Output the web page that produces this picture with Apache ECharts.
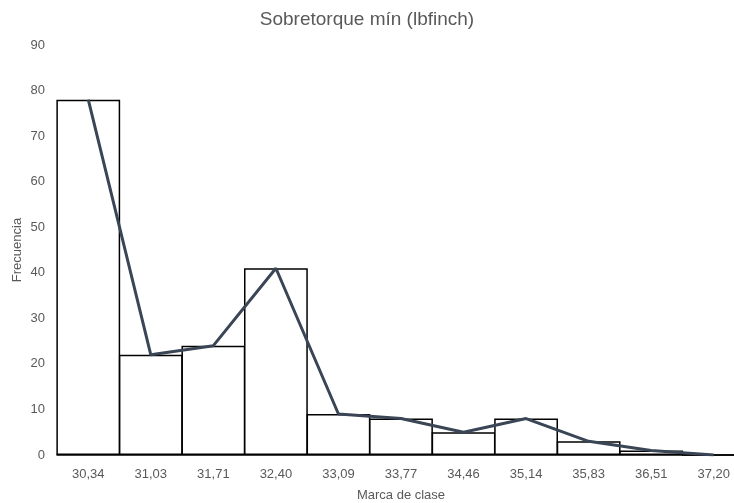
<!DOCTYPE html>
<html><head><meta charset="utf-8">
<script src="https://cdn.jsdelivr.net/npm/echarts@6/dist/echarts.min.js"></script>
<style>html,body{margin:0;padding:0;background:#fff}#c{width:734px;height:503px}</style>
</head><body><div id="c"></div>
<script>
const categories = ["30,34","31,03","31,71","32,40","33,09","33,77","34,46","35,14","35,83","36,51","37,20"];
const barValues = [78,22,24,41,9,8,5,8,3,1,0];
const lineValues = [78,22,24,41,9,8,5,8,3,1,0];
const yTicks = {min:0, max:90, interval:10};
const font = "'Liberation Sans', sans-serif";
const chart = echarts.init(document.getElementById('c'));
chart.setOption({
  animation:false,
  title:{text:'Sobretorque mín (lbfinch)', left:'center', top:5, textStyle:{fontFamily:font, fontSize:19, fontWeight:'normal', color:'#595959'}},
  grid:{left:57, width:688, top:45, bottom:48, outerBoundsMode:'none', containLabel:false},
  xAxis:{type:'category', data:categories, name:'Marca de clase', nameLocation:'middle', nameGap:34,
    nameTextStyle:{fontFamily:font, fontSize:13, color:'#595959'},
    axisLine:{lineStyle:{color:'#000', width:1.5}}, axisTick:{show:false},
    axisLabel:{fontFamily:font, fontSize:13, color:'#595959', margin:13}},
  yAxis:{type:'value', min:yTicks.min, max:yTicks.max, interval:yTicks.interval, name:'Frecuencia', nameLocation:'middle', nameGap:33, nameMoveOverlap:false,
    nameTextStyle:{fontFamily:font, fontSize:13, color:'#595959'},
    axisLine:{show:false}, axisTick:{show:false}, splitLine:{show:false},
    axisLabel:{fontFamily:font, fontSize:13, color:'#595959', margin:12}},
  series:[
    {type:'bar', data:barValues, barCategoryGap:'-2%', itemStyle:{color:'#fff', borderColor:'#000', borderWidth:1.5}, z:2},
    {type:'line', data:lineValues, symbol:'none', lineStyle:{color:'#3a4556', width:3}, z:3}
  ]
});
</script></body></html>
